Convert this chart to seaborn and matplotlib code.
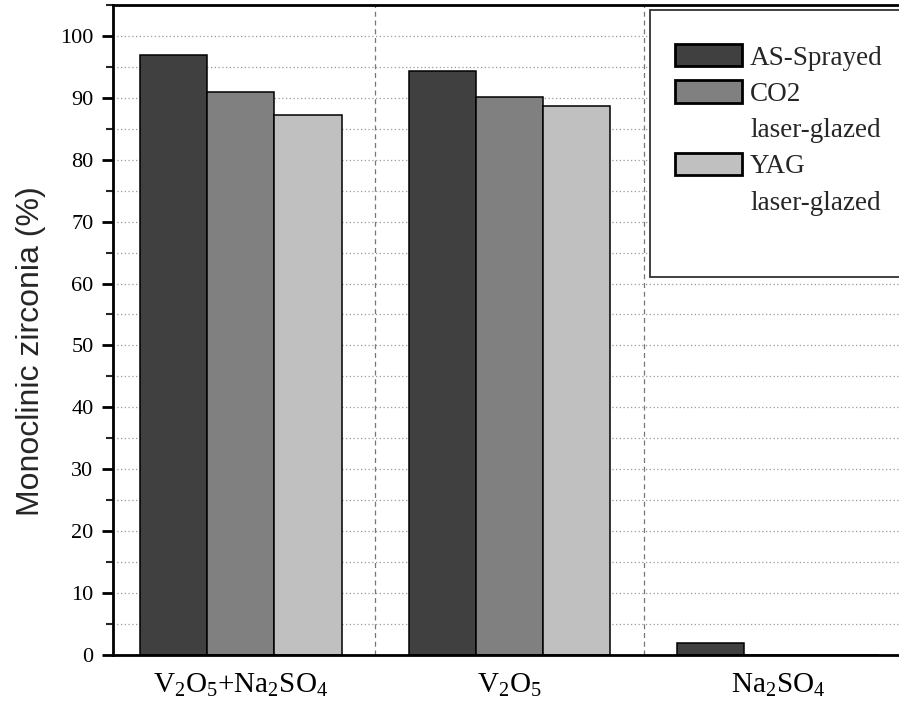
"""Monoclinic zirconia content after hot-corrosion tests."""

import matplotlib

matplotlib.use("Agg")

import matplotlib.pyplot as plt
import pandas as pd
import seaborn as sns
from matplotlib.patches import Patch, Rectangle
from matplotlib.ticker import MultipleLocator


salts = ["V2O5+Na2SO4", "V2O5", "Na2SO4"]
salt_labels = [r"V$_2$O$_5$+Na$_2$SO$_4$", r"V$_2$O$_5$", r"Na$_2$SO$_4$"]
series = ["AS-Sprayed", "CO2 laser-glazed", "YAG laser-glazed"]
as_sprayed = [96.9, 94.4, 1.9]
co2_glazed = [90.9, 90.2, 0.0]
yag_glazed = [87.2, 88.7, 0.0]
legend_rows = ["AS-Sprayed", "CO2", "laser-glazed", "YAG", "laser-glazed"]

PALETTE = {
    "AS-Sprayed": "#404040",
    "CO2 laser-glazed": "#808080",
    "YAG laser-glazed": "#c0c0c0",
}

sns.set_style("ticks")
plt.rcParams["font.family"] = ["Liberation Serif", "DejaVu Serif"]
plt.rcParams["mathtext.default"] = "regular"

df = pd.DataFrame({
    "salt": salts * 3,
    "series": [s for s in series for _ in salts],
    "value": as_sprayed + co2_glazed + yag_glazed,
})

fig = plt.figure(figsize=(8.99, 7.10), dpi=100)
ax = fig.add_axes([0.1257, 0.0775, 0.9038, 0.9155])

sns.barplot(
    data=df,
    x="salt",
    y="value",
    hue="series",
    order=salts,
    hue_order=series,
    palette=PALETTE,
    width=0.75,
    edgecolor="black",
    linewidth=1.1,
    errorbar=None,
    legend=False,
    ax=ax,
)

ax.set_xlim(-0.476, 2.55)
ax.set_ylim(0, 105)
ax.yaxis.set_major_locator(MultipleLocator(10))
ax.yaxis.set_minor_locator(MultipleLocator(5))
ax.set_yticks(range(0, 101, 10))
ax.set_xticks(range(len(salts)))
ax.set_xticklabels(salt_labels, fontsize=21)
ax.set_xticks([0.5, 1.5], minor=True)

ax.set_axisbelow(True)
ax.grid(axis="y", which="both", linestyle=(0, (1, 2)), color="#9a9a9a", linewidth=0.9)
ax.grid(axis="x", which="minor", linestyle=(0, (4, 3)), color="#777777", linewidth=0.9)
ax.grid(axis="x", which="major", visible=False)

ax.tick_params(axis="y", which="major", direction="out", length=8, width=2,
               labelsize=16, pad=6, colors="black")
ax.tick_params(axis="y", which="minor", direction="out", length=5, width=1.5)
ax.tick_params(axis="x", which="both", length=0, pad=12, colors="black")

for side in ["left", "bottom", "top"]:
    ax.spines[side].set_linewidth(2)
    ax.spines[side].set_color("black")
ax.spines["right"].set_visible(False)

ax.set_xlabel("")
ax.set_ylabel("Monoclinic zirconia (%)", family=["Liberation Sans", "DejaVu Sans"],
              fontsize=23)
ax.yaxis.set_label_coords(-0.083, 0.468)

# legend box (extends past the right edge like the source)
box = Rectangle((0.723, 0.610), 0.4, 0.376, transform=fig.transFigure,
                facecolor="white", edgecolor="#333333", linewidth=1.3,
                zorder=5, clip_on=False)
fig.patches.append(box)

colors = [PALETTE[s] for s in series]
blank = Patch(facecolor="none", edgecolor="none")
handles = [
    Patch(facecolor=colors[0], edgecolor="black", linewidth=2),
    Patch(facecolor=colors[1], edgecolor="black", linewidth=2),
    blank,
    Patch(facecolor=colors[2], edgecolor="black", linewidth=2),
    blank,
]
leg = fig.legend(
    handles,
    legend_rows,
    loc="upper left",
    bbox_to_anchor=(0.751, 0.938),
    bbox_transform=fig.transFigure,
    frameon=False,
    fontsize=19.5,
    handlelength=2.47,
    handleheight=0.89,
    handletextpad=0.3,
    labelspacing=0.36,
    borderpad=0,
    borderaxespad=0,
)
leg.set_zorder(6)

fig.savefig("out.png", dpi=100)
